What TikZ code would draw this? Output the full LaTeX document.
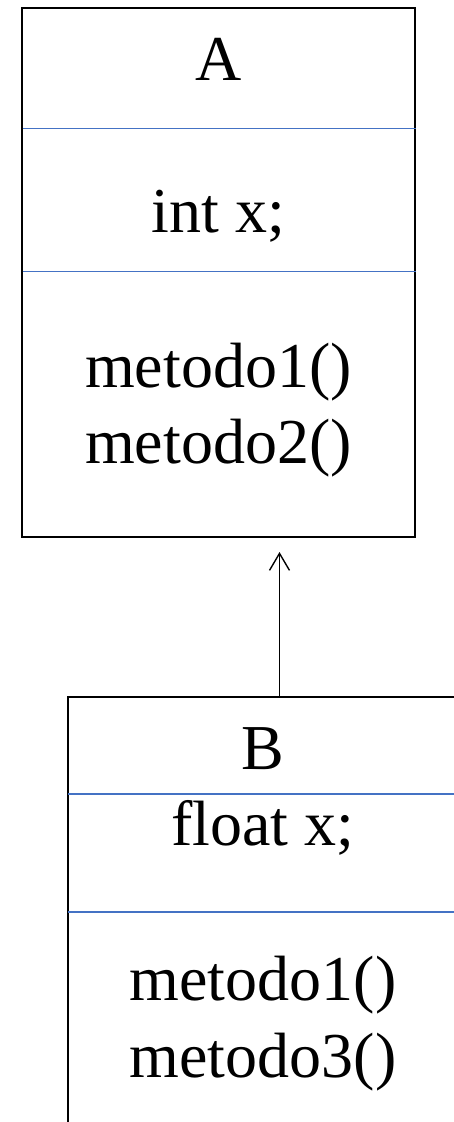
\documentclass[tikz,border=0pt]{standalone}
\usepackage{fontspec}
\setmainfont{Liberation Serif}
\usetikzlibrary{arrows.meta}
\definecolor{sepblue}{RGB}{68,114,196}
\tikzset{
  classbox/.style={draw=black, line width=1.6pt, inner sep=0pt},
  sepline/.style={draw=sepblue, line width=1.6pt},
  lbl/.style={anchor=base, inner sep=0pt, font=\fontsize{64}{77}\selectfont},
  inherit/.style={draw=black, line width=1.4pt, -{Straight Barb[length=17pt,width=20pt,line width=1.4pt]}}
}
\begin{document}
\begin{tikzpicture}[x=1pt,y=-1pt]
\useasboundingbox (0,0) rectangle (454,1122);
\clip (0,0) rectangle (454,1122);
% class A
\node[classbox, minimum width=393pt, minimum height=529pt] (A) at (218.5,272.5) {};
\draw[sepline] (22.5,128.5) -- (415.5,128.5);
\draw[sepline] (22.5,271.5) -- (415.5,271.5);
\node[lbl] (Aname) at (218.5,80) {A};
\node[lbl] (Aattr) at (218.5,232) {int x;};
\node[lbl] (Am1) at (218.5,387) {metodo1()};
\node[lbl] (Am2) at (218.5,463) {metodo2()};
% class B
\node[classbox, minimum width=390pt, minimum height=500pt] (B) at (263,947) {};
\draw[sepline] (68,794) -- (460,794);
\draw[sepline] (68,912) -- (460,912);
\node[lbl] (Bname) at (263,769) {B};
\node[lbl] (Battr) at (263,845) {float x;};
\node[lbl] (Bm1) at (263,1000) {metodo1()};
\node[lbl] (Bm3) at (263,1077) {metodo3()};
% inheritance arrow
\coordinate (tail) at (279.5,697);
\coordinate (head) at (279.5,552);
\draw[inherit] (tail) -- (head);
\end{tikzpicture}
\end{document}
